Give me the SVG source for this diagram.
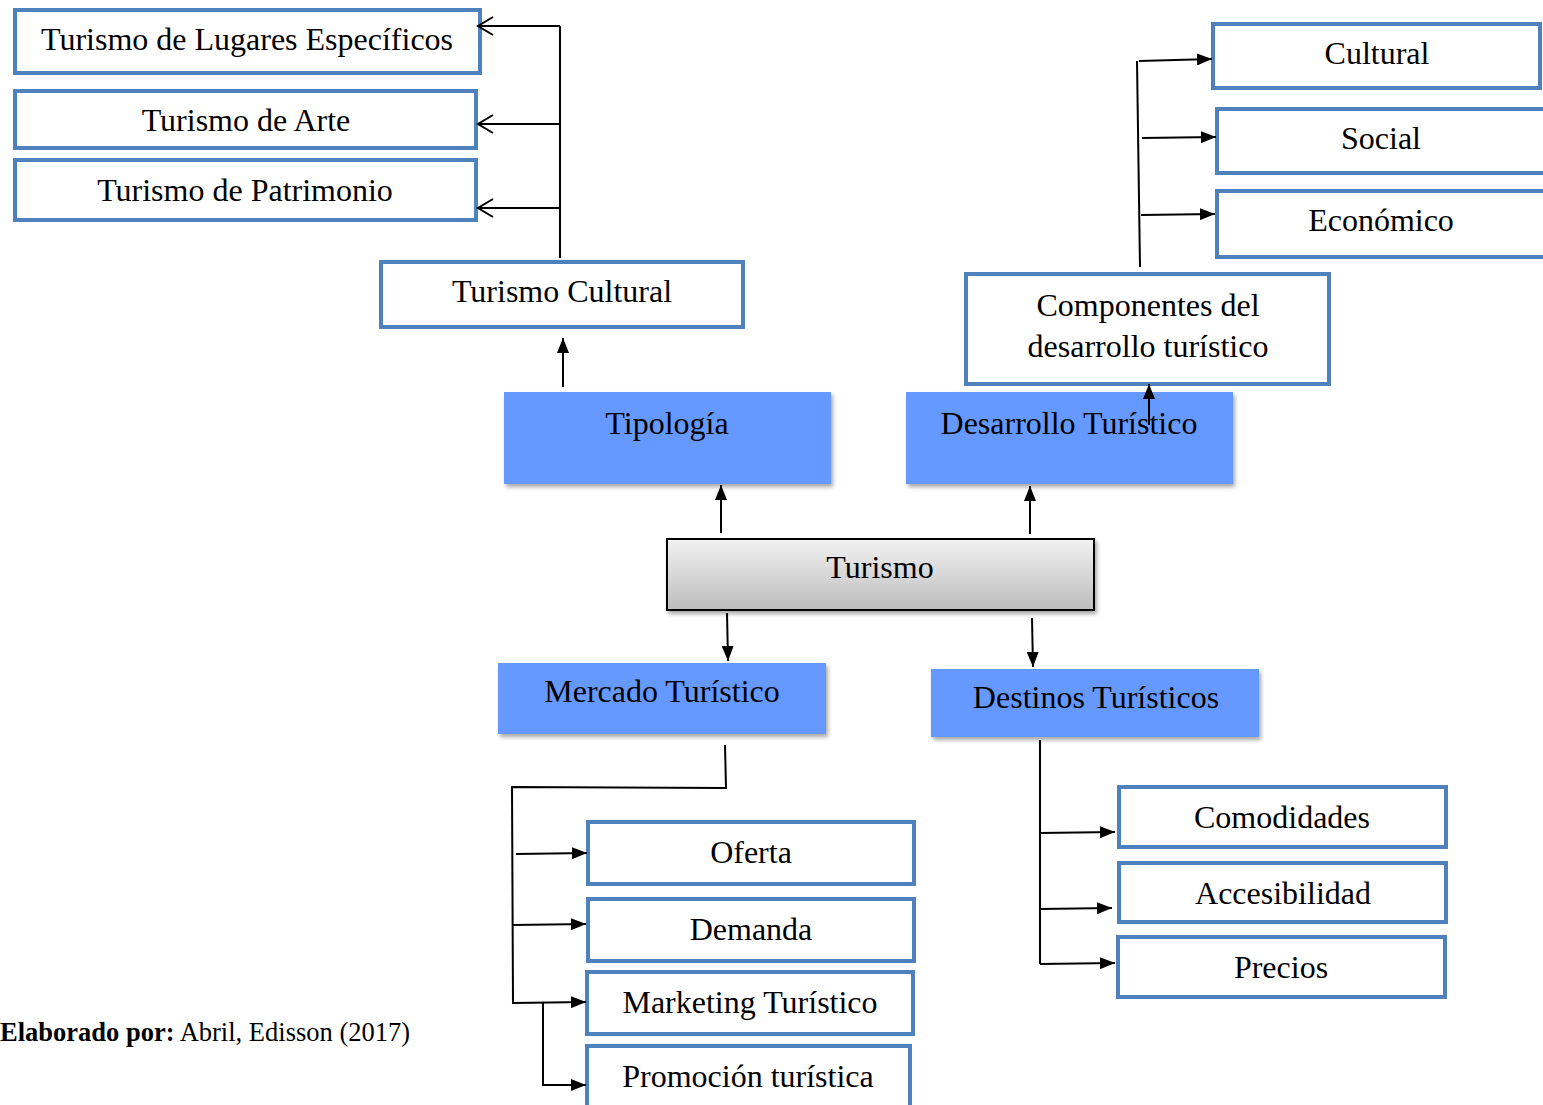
<svg xmlns="http://www.w3.org/2000/svg" width="1543" height="1105" viewBox="0 0 1543 1105">
<style>
.ob{fill:#fff;stroke:#4f81bd;stroke-width:4}
.bb{fill:#6699ff;stroke:none}
.t{font-family:"Liberation Serif","Times New Roman",serif;font-size:32px;fill:#000;text-anchor:middle}
.c{fill:none;stroke:#000;stroke-width:2}
.a{marker-end:url(#arr)}
.v{marker-end:url(#open)}
</style>
<defs>
<marker id="arr" viewBox="0 0 15 12" refX="15" refY="6" markerWidth="15" markerHeight="12" markerUnits="userSpaceOnUse" orient="auto">
<path d="M0,0 L15,6 L0,12 Z" fill="#000"/>
</marker>
<marker id="open" viewBox="0 0 18 20" refX="16" refY="10" markerWidth="18" markerHeight="20" markerUnits="userSpaceOnUse" orient="auto">
<path d="M1,1 L16,10 L1,19" fill="none" stroke="#000" stroke-width="2"/>
</marker>
<linearGradient id="gray" x1="0" y1="0" x2="0" y2="1">
<stop offset="0" stop-color="#f2f2f2"/>
<stop offset="1" stop-color="#bdbdbd"/>
</linearGradient>
<filter id="sh" x="-5%" y="-5%" width="115%" height="125%">
<feGaussianBlur in="SourceAlpha" stdDeviation="2"/>
<feOffset dx="2" dy="3" result="o"/>
<feComponentTransfer><feFuncA type="linear" slope="0.35"/></feComponentTransfer>
<feMerge><feMergeNode/><feMergeNode in="SourceGraphic"/></feMerge>
</filter>
</defs>
<rect width="1543" height="1105" fill="#fff"/>

<g id="n-lugares"><rect class="ob" x="15" y="10" width="465" height="63"/><text class="t" x="247" y="50">Turismo de Lugares Específicos</text></g>
<g id="n-arte"><rect class="ob" x="15" y="91" width="461" height="57"/><text class="t" x="246" y="131">Turismo de Arte</text></g>
<g id="n-patrimonio"><rect class="ob" x="15" y="160" width="461" height="60"/><text class="t" x="245" y="201">Turismo de Patrimonio</text></g>
<g id="n-cultural"><rect class="ob" x="381" y="262" width="362" height="65"/><text class="t" x="562" y="302">Turismo Cultural</text></g>

<g id="n-tipologia"><rect class="bb" x="504" y="392" width="327" height="92" filter="url(#sh)"/><text class="t" x="667" y="434">Tipología</text></g>
<g id="n-desarrollo"><rect class="bb" x="906" y="392" width="327" height="92" filter="url(#sh)"/><text class="t" x="1069" y="434">Desarrollo Turístico</text></g>

<g id="n-componentes"><rect class="ob" x="966" y="274" width="363" height="110"/><text class="t" x="1148" y="316">Componentes del</text><text class="t" x="1148" y="357">desarrollo turístico</text></g>

<g id="n-cult"><rect class="ob" x="1213" y="24" width="327" height="64"/><text class="t" x="1377" y="64">Cultural</text></g>
<g id="n-social"><rect class="ob" x="1217" y="109" width="328" height="64"/><text class="t" x="1381" y="149">Social</text></g>
<g id="n-economico"><rect class="ob" x="1217" y="191" width="328" height="66"/><text class="t" x="1381" y="231">Económico</text></g>

<g id="n-turismo"><rect x="667" y="539" width="427" height="71" fill="url(#gray)" stroke="#000" stroke-width="2" filter="url(#sh)"/><text class="t" x="880" y="578">Turismo</text></g>

<g id="n-mercado"><rect class="bb" x="498" y="663" width="328" height="71" filter="url(#sh)"/><text class="t" x="662" y="702">Mercado Turístico</text></g>
<g id="n-destinos"><rect class="bb" x="931" y="669" width="328" height="68" filter="url(#sh)"/><text class="t" x="1096" y="708">Destinos Turísticos</text></g>

<g id="n-oferta"><rect class="ob" x="588" y="822" width="326" height="62"/><text class="t" x="751" y="863">Oferta</text></g>
<g id="n-demanda"><rect class="ob" x="588" y="899" width="326" height="62"/><text class="t" x="751" y="940">Demanda</text></g>
<g id="n-marketing"><rect class="ob" x="587" y="972" width="326" height="62"/><text class="t" x="750" y="1013">Marketing Turístico</text></g>
<g id="n-promocion"><rect class="ob" x="587" y="1046" width="323" height="62"/><text class="t" x="748" y="1087">Promoción turística</text></g>

<g id="n-comodidades"><rect class="ob" x="1119" y="787" width="327" height="60"/><text class="t" x="1282" y="828">Comodidades</text></g>
<g id="n-accesibilidad"><rect class="ob" x="1119" y="863" width="327" height="59"/><text class="t" x="1283" y="904">Accesibilidad</text></g>
<g id="n-precios"><rect class="ob" x="1118" y="937" width="327" height="60"/><text class="t" x="1281" y="978">Precios</text></g>

<g id="connectors">
<path class="c" d="M560,258 L560,26"/>
<path class="c v" d="M560,26 L478,26"/>
<path class="c v" d="M560,124 L478,124"/>
<path class="c v" d="M560,208 L478,208"/>
<path class="c a" d="M563,387 L563,338"/>
<path class="c a" d="M721,533 L721,485"/>
<path class="c a" d="M1030,534 L1030,486"/>
<path class="c a" d="M1149,425 L1149,384"/>
<path class="c" d="M1140,267 L1137,61"/>
<path class="c a" d="M1139,61 L1212,59"/>
<path class="c a" d="M1142,138 L1216,137"/>
<path class="c a" d="M1141,215 L1215,214"/>
<path class="c a" d="M727,613 L728,661"/>
<path class="c a" d="M1032,618 L1033,667"/>
<path class="c" d="M725,745 L726,788 L512,787 L513,1004"/>
<path class="c a" d="M516,854 L587,853"/>
<path class="c a" d="M513,925 L586,924"/>
<path class="c a" d="M513,1003 L586,1002"/>
<path class="c a" d="M543,1003 L543,1085 L586,1085"/>
<path class="c" d="M1040,740 L1040,964"/>
<path class="c a" d="M1040,833 L1115,832"/>
<path class="c a" d="M1040,909 L1112,908"/>
<path class="c a" d="M1040,964 L1115,963"/>
</g>

<text x="0" y="1041" font-family="'Liberation Serif','Times New Roman',serif" font-size="26.5" fill="#000"><tspan font-weight="bold">Elaborado por:</tspan> Abril, Edisson (2017)</text>
</svg>
